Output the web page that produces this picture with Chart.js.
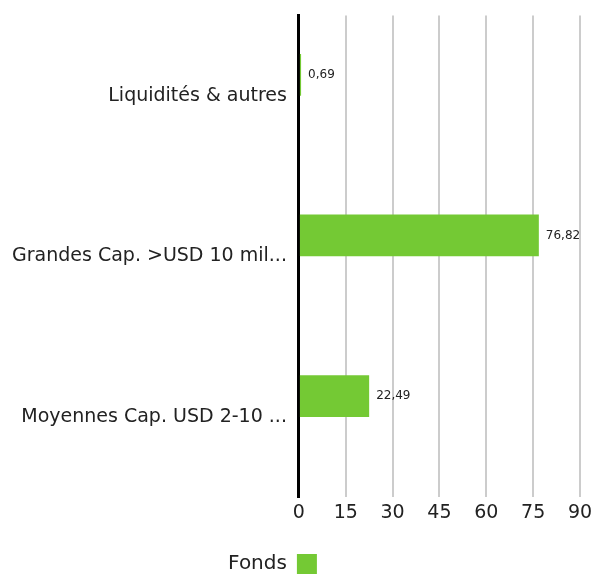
<!DOCTYPE html>
<html>
<head>
<meta charset="utf-8">
<title>Répartition par capitalisation</title>
<script src="https://cdn.jsdelivr.net/npm/chart.js@4.4.0/dist/chart.umd.min.js"></script>
<style>
  html, body { margin: 0; padding: 0; background: #fff; }
  #wrap { width: 593px; height: 574px; }
</style>
</head>
<body>
<div id="wrap"><canvas id="capChart"></canvas></div>
<script>
const categories = ['Liquidités & autres', 'Grandes Cap. >USD 10 milliards', 'Moyennes Cap. USD 2-10 milliards'];
const fondsValues = [0.69, 76.82, 22.49];
const xTicks = [0, 15, 30, 45, 60, 75, 90];

const FONT = '"DejaVu Sans", sans-serif';
const fmt = v => v.toFixed(2).replace('.', ',');

// cut long category names to fit the label column
const measureCtx = document.createElement('canvas').getContext('2d');
measureCtx.font = '19px ' + FONT;
function shorten(s, maxW) {
    if (measureCtx.measureText(s).width <= maxW) return s;
    let n = s.length;
    while (n > 0 && measureCtx.measureText(s.slice(0, n) + '...').width > maxW) n--;
    return s.slice(0, n) + '...';
}

// writes the value just past the end of each bar
const valueLabels = {
    id: 'valueLabels',
    afterDatasetsDraw(chart) {
        const ctx = chart.ctx;
        const meta = chart.getDatasetMeta(0);
        ctx.save();
        ctx.font = '12px ' + FONT;
        ctx.fillStyle = '#222';
        ctx.textBaseline = 'middle';
        meta.data.forEach((bar, i) => {
            ctx.fillText(fmt(fondsValues[i]), bar.x + 7, bar.y);
        });
        ctx.restore();
    }
};

// nudge the legend to where it sits in the original
const legendShift = {
    id: 'legendShift',
    afterLayout(chart) {
        const lg = chart.legend;
        lg.left -= 28; lg.right -= 28;
        lg.top += 10; lg.bottom += 10;
    }
};

new Chart(document.getElementById('capChart'), {
    type: 'bar',
    data: {
        labels: categories,
        datasets: [{
            label: 'Fonds',
            data: fondsValues,
            backgroundColor: '#74c934',
            categoryPercentage: 0.52,
            barPercentage: 1
        }, {
            label: '',
            data: [],
            backgroundColor: 'transparent'
        }]
    },
    options: {
        indexAxis: 'y',
        responsive: true,
        maintainAspectRatio: false,
        animation: false,
        layout: { padding: { top: 14, right: 0, left: 8, bottom: 0 } },
        scales: {
            x: {
                min: 0,
                max: 90,
                afterBuildTicks: axis => { axis.ticks = xTicks.map(v => ({ value: v })); },
                afterFit: axis => { axis.paddingRight = 13; },
                grid: { color: '#cccccc', lineWidth: 2, drawTicks: false },
                border: { display: false },
                ticks: {
                    color: '#222',
                    padding: 4,
                    font: { family: FONT, size: 19 }
                }
            },
            y: {
                grid: { display: false },
                border: { color: '#000', width: 3 },
                ticks: {
                    color: '#222',
                    padding: 4,
                    font: { family: FONT, size: 19 },
                    callback: function (value) {
                        return shorten(this.getLabelForValue(value), 276);
                    }
                }
            }
        },
        plugins: {
            legend: {
                position: 'bottom',
                rtl: true,
                labels: {
                    boxWidth: 20,
                    boxHeight: 20,
                    color: '#222',
                    padding: 16,
                    font: { family: FONT, size: 20 },
                    filter: item => item.text !== ''
                }
            },
            tooltip: { enabled: false }
        }
    },
    plugins: [valueLabels, legendShift]
});
</script>
</body>
</html>
